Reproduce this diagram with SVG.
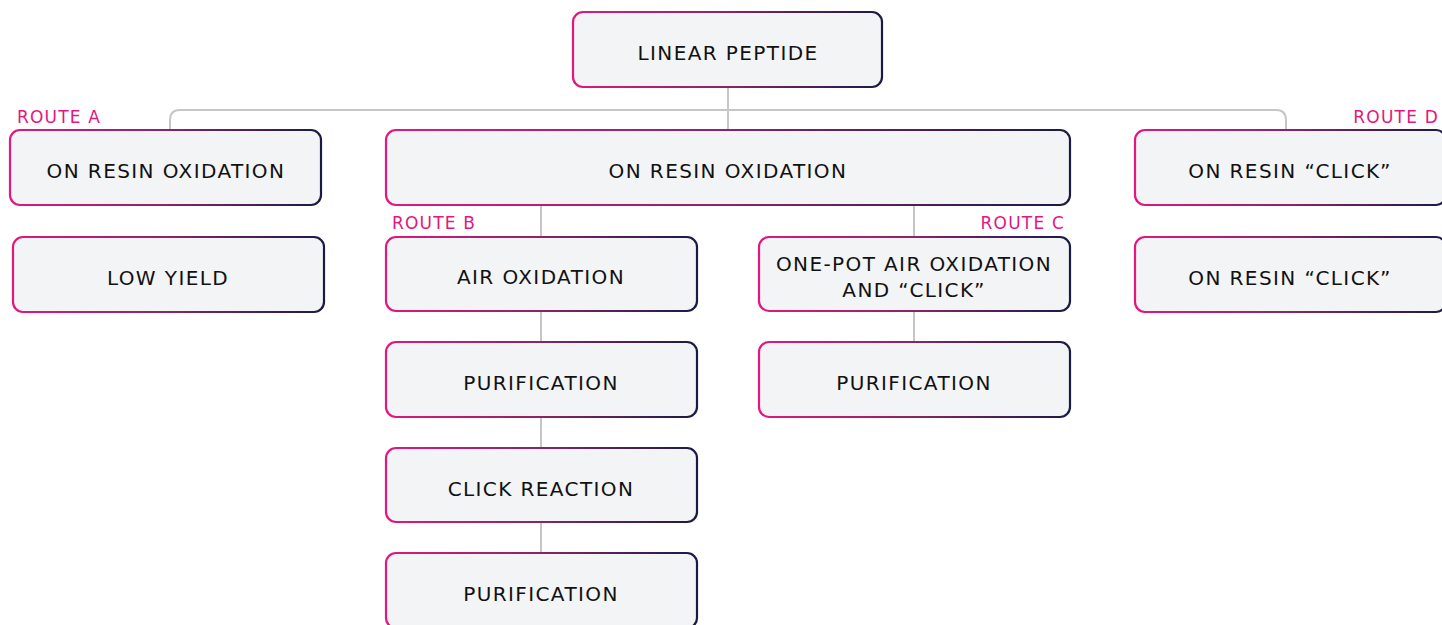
<svg xmlns="http://www.w3.org/2000/svg" width="1442" height="625" viewBox="0 0 1442 625">
<defs>
<linearGradient id="g" x1="0" y1="0" x2="1" y2="0">
<stop offset="0" stop-color="#e2177f"/>
<stop offset="0.5" stop-color="#8a2466"/>
<stop offset="1" stop-color="#1a1a46"/>
</linearGradient>
<style>
.n{fill:#f3f4f6;stroke:url(#g);stroke-width:2.2}
.t{font-family:"DejaVu Sans","Liberation Sans",sans-serif;font-size:20px;letter-spacing:1.4px;fill:#111;text-anchor:middle}
.r{font-family:"DejaVu Sans","Liberation Sans",sans-serif;font-size:17px;letter-spacing:1.2px;fill:#e2177f}
.c{fill:none;stroke:#c6c6c6;stroke-width:2}
</style>
</defs>
<g id="connectors">
<path class="c" d="M728 87V130"/>
<path class="c" d="M170 130V120Q170 110 180 110H1276Q1286 110 1286 120V130"/>
<path class="c" d="M541 205V237M541 311V342M541 417V448M541 522V553"/>
<path class="c" d="M914 205V237M914 311V342"/>
</g>
<g id="n-linear"><rect class="n" x="573" y="12" width="309" height="75" rx="10"/><text class="t" x="728" y="60">LINEAR PEPTIDE</text></g>
<g id="n-a1"><text class="r" x="17" y="123">ROUTE A</text><rect class="n" x="10" y="130" width="311" height="75" rx="10"/><text class="t" x="166" y="178">ON RESIN OXIDATION</text></g>
<g id="n-a2"><rect class="n" x="13" y="237" width="311" height="75" rx="10"/><text class="t" x="168" y="285">LOW YIELD</text></g>
<g id="n-bc"><rect class="n" x="386" y="130" width="684" height="75" rx="10"/><text class="t" x="728" y="178">ON RESIN OXIDATION</text></g>
<g id="n-b1"><text class="r" x="392" y="229">ROUTE B</text><rect class="n" x="386" y="237" width="311" height="74" rx="10"/><text class="t" x="541" y="284">AIR OXIDATION</text></g>
<g id="n-b2"><rect class="n" x="386" y="342" width="311" height="75" rx="10"/><text class="t" x="541" y="390">PURIFICATION</text></g>
<g id="n-b3"><rect class="n" x="386" y="448" width="311" height="74" rx="10"/><text class="t" x="541" y="496">CLICK REACTION</text></g>
<g id="n-b4"><rect class="n" x="386" y="553" width="311" height="75" rx="10"/><text class="t" x="541" y="601">PURIFICATION</text></g>
<g id="n-c1"><text class="r" x="1065" y="229" text-anchor="end">ROUTE C</text><rect class="n" x="759" y="237" width="311" height="74" rx="10"/><text class="t" x="914" y="271">ONE-POT AIR OXIDATION</text><text class="t" x="914" y="297">AND “CLICK”</text></g>
<g id="n-c2"><rect class="n" x="759" y="342" width="311" height="75" rx="10"/><text class="t" x="914" y="390">PURIFICATION</text></g>
<g id="n-d1"><text class="r" x="1439" y="123" text-anchor="end">ROUTE D</text><rect class="n" x="1135" y="130" width="311" height="75" rx="10"/><text class="t" x="1290" y="178">ON RESIN “CLICK”</text></g>
<g id="n-d2"><rect class="n" x="1135" y="237" width="311" height="75" rx="10"/><text class="t" x="1290" y="285">ON RESIN “CLICK”</text></g>
</svg>
